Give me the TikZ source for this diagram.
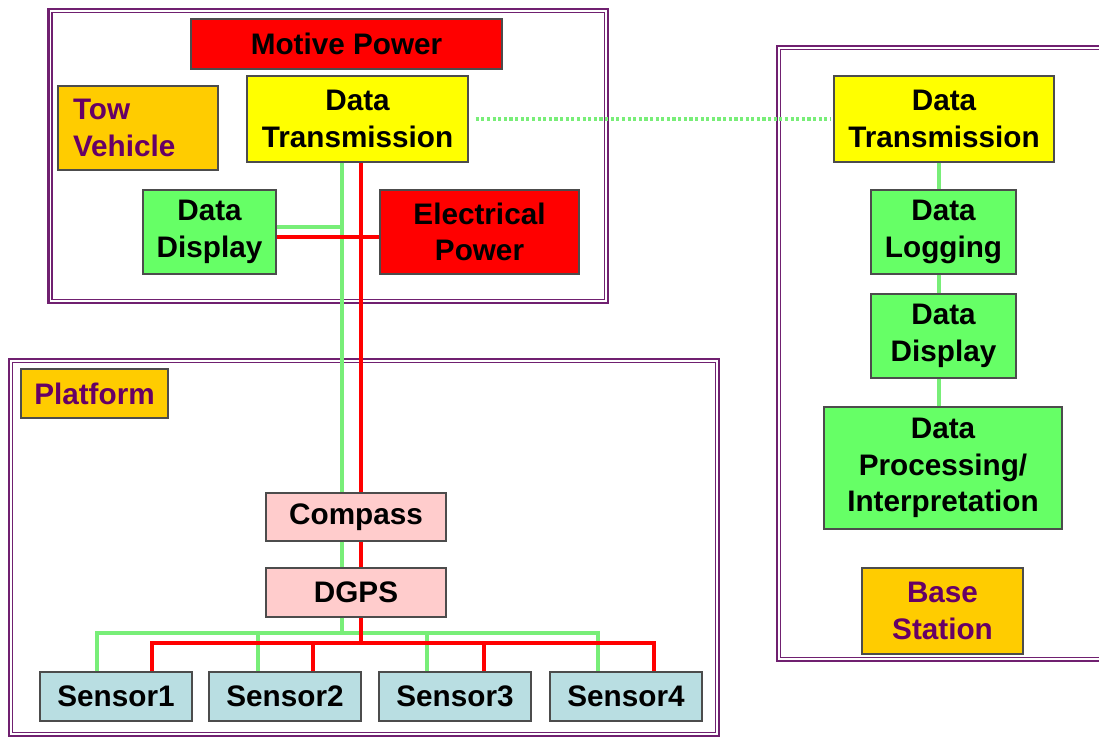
\documentclass[tikz,border=0pt]{standalone}
\usepackage{fontspec}
\setmainfont{Liberation Sans}

\definecolor{framecol}{RGB}{112,32,112}
\definecolor{labelcol}{RGB}{102,0,102}
\definecolor{redbox}{RGB}{255,0,0}
\definecolor{yellowbox}{RGB}{255,255,0}
\definecolor{greenbox}{RGB}{102,255,102}
\definecolor{orangebox}{RGB}{255,204,0}
\definecolor{pinkbox}{RGB}{255,204,204}
\definecolor{bluebox}{RGB}{185,222,226}
\definecolor{dataline}{RGB}{120,238,120}
\definecolor{powerline}{RGB}{255,0,0}

\tikzset{
  blk/.style={draw=black!70, line width=0.8pt, inner sep=0pt, align=center,
              font=\bfseries\fontsize{16.9}{20.8}\selectfont},
  tag/.style={blk, fill=orangebox, text=labelcol},
  frm/.style={draw=framecol, line width=1.4pt},
  frmin/.style={draw=framecol, line width=0.6pt},
  data/.style={draw=dataline, line width=2.3pt},
  power/.style={draw=powerline, line width=2.3pt},
}

\begin{document}
\begin{tikzpicture}[x=0.02cm, y=-0.02cm]
      \clip (0,0) rectangle (1099,738);
      \fill[white] (0,0) rectangle (1099,738);

      % the three frames
      \draw[frm] (48.5,9) rectangle (608,303);
      \draw[frmin] (52,12.5) rectangle (604.5,299.5);
      \draw[frm] (9,359) rectangle (719,736);
      \draw[frmin] (12.5,362.5) rectangle (715.5,732.5);
      \draw[frm] (777,46) rectangle (1120,661);
      \draw[frmin] (780.5,49.5) rectangle (1120,657.5);

      % tow vehicle
      \node at(346.5,44) [blk, fill=redbox, minimum width=6.22cm, minimum height=1cm] (motive) {Motive Power};
      \node at(138,128) [tag, align=left, text width=2.6cm, inner xsep=0.3cm, minimum height=1.68cm] (tow) {Tow\\Vehicle};
      \node at(357.5,119) [blk, fill=yellowbox, minimum width=4.42cm, minimum height=1.72cm] (trans-tow) {Data\\Transmission};
      \node at(209.5,232) [blk, fill=greenbox, minimum width=2.66cm, minimum height=1.68cm] (display-tow) {Data\\Display};
      \node at(479.5,232) [blk, fill=redbox, minimum width=3.98cm, minimum height=1.68cm] (elec) {Electrical\\Power};

      % platform
      \node at(94.5,393.5) [tag, minimum width=2.94cm, minimum height=0.98cm] (platform) {Platform};
      \node at(356,517) [blk, fill=pinkbox, minimum width=3.6cm, minimum height=0.96cm] (compass) {Compass};
      \node at(356,592.5) [blk, fill=pinkbox, minimum width=3.6cm, minimum height=0.98cm] (dgps) {DGPS};
      \node at(116,696.5) [blk, fill=bluebox, minimum width=3.04cm, minimum height=0.98cm] (sensor1) {Sensor1};
      \node at(285,696.5) [blk, fill=bluebox, minimum width=3.04cm, minimum height=0.98cm] (sensor2) {Sensor2};
      \node at(455,696.5) [blk, fill=bluebox, minimum width=3.04cm, minimum height=0.98cm] (sensor3) {Sensor3};
      \node at(626,696.5) [blk, fill=bluebox, minimum width=3.04cm, minimum height=0.98cm] (sensor4) {Sensor4};

      % base station
      \node at(944,119) [blk, fill=yellowbox, minimum width=4.4cm, minimum height=1.72cm] (trans-base) {Data\\Transmission};
      \node at(943.5,232) [blk, fill=greenbox, minimum width=2.9cm, minimum height=1.68cm] (logging) {Data\\Logging};
      \node at(943.5,336) [blk, fill=greenbox, minimum width=2.9cm, minimum height=1.68cm] (display-base) {Data\\Display};
      \node at(943,468) [blk, fill=greenbox, minimum width=4.76cm, minimum height=2.44cm] (processing) {Data\\Processing/\\Interpretation};
      \node at(942.5,611) [tag, minimum width=3.22cm, minimum height=1.72cm] (base) {Base\\Station};

      % data links
      \draw[data, dash pattern=on 1.8pt off 1.4pt, shorten <=4pt, shorten >=1.2pt] (trans-tow) -- (trans-base);
      \draw[data] (trans-tow.south -| 342,0) -- (compass.north -| 342,0);
      \draw[data] (display-tow.east |- 0,227) -- (342,227);
      \draw[data] (compass.south -| 342,0) -- (dgps.north -| 342,0);
      \draw[data] (dgps.south -| 342,0) -- (342,633);
      \draw[data] (sensor1.north -| 97,0) |- (598,633) -- (sensor4.north -| 598,0);
      \draw[data] (sensor2.north -| 258,0) -- (258,633);
      \draw[data] (sensor3.north -| 427,0) -- (427,633);
      \draw[data] (trans-base.south -| 939,0) -- (logging.north -| 939,0);
      \draw[data] (logging.south -| 939,0) -- (display-base.north -| 939,0);
      \draw[data] (display-base.south -| 939,0) -- (processing.north -| 939,0);

      % power links
      \draw[power] (trans-tow.south -| 361,0) -- (compass.north -| 361,0);
      \draw[power] (display-tow.east |- 0,237) -- (elec.west |- 0,237);
      \draw[power] (compass.south -| 361,0) -- (dgps.north -| 361,0);
      \draw[power] (dgps.south -| 361,0) -- (361,643);
      \draw[power] (sensor1.north -| 152,0) |- (654,643) -- (sensor4.north -| 654,0);
      \draw[power] (sensor2.north -| 313,0) -- (313,643);
      \draw[power] (sensor3.north -| 484,0) -- (484,643);
\end{tikzpicture}
\end{document}
